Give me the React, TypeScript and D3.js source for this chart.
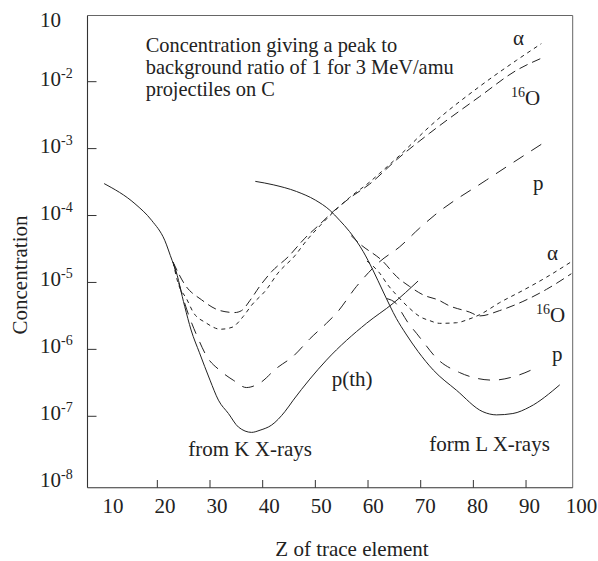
import React from "react";
import * as d3 from "d3";

// ---- data (Z of trace element, concentration) ----
const kSolidZ = [9.9, 15.75, 18.9, 21.4, 22.8, 23.3, 25.2, 26.4, 28, 30.0, 31.6, 33.5, 35.4, 37.9, 39.5, 41.7, 44.2, 45.8, 52.1, 59.7, 64.8, 69.5];
const kSolidC = [3.0e-4, 1.5e-4, 8.5e-5, 4.27e-5, 2.14e-5, 1.7e-5, 4.37e-6, 1.95e-6, 8.9e-7, 3.47e-7, 1.74e-7, 1.1e-7, 6.9e-8, 5.75e-8, 6.2e-8, 7.4e-8, 1.17e-7, 1.74e-7, 6.9e-7, 2.45e-6, 4.9e-6, 1.05e-5];

const lSolidZ = [38.6, 42, 46.4, 50, 52.75, 54.6, 56.5, 59.1, 60.9, 62.9, 65.4, 67.2, 69.5, 72.4, 76.8, 81.8, 84.4, 87.5, 90.7, 96.4];
const lSolidC = [3.24e-4, 2.88e-4, 2.29e-4, 1.7e-4, 1.2e-4, 8.5e-5, 5.75e-5, 2.88e-5, 1.55e-5, 7.2e-6, 2.88e-6, 1.7e-6, 9.3e-7, 4.9e-7, 2.45e-7, 1.17e-7, 1.05e-7, 1.1e-7, 1.38e-7, 2.95e-7];

const alphaKZ = [23, 23.9, 25.6, 26.8, 29.2, 32.0, 34.2, 36.3, 37.9, 40.7, 42.9, 46.1, 48.3, 51, 53.4, 56.5, 60.3, 62.2, 66, 71.7, 81.2, 88.2, 92.9];
const alphaKC = [2.0e-5, 1.0e-5, 5.6e-6, 3.6e-6, 2.5e-6, 2.0e-6, 2.14e-6, 3.1e-6, 4.57e-6, 7.8e-6, 1.38e-5, 2.5e-5, 4.2e-5, 7.2e-5, 1.12e-4, 1.86e-4, 3.16e-4, 4.27e-4, 7.9e-4, 2.14e-3, 8.5e-3, 2.09e-2, 3.7e-2];

const oxyKZ = [23, 25.3, 28.4, 31.9, 34.7, 36.0, 37.6, 39.5, 41.7, 44.8, 48.0, 51, 53.4, 56.5, 60.3, 65.4, 71.7, 81.2, 88.2, 93.2];
const oxyKC = [2.0e-5, 9.1e-6, 5.5e-6, 3.8e-6, 3.55e-6, 3.8e-6, 5.4e-6, 8.9e-6, 1.45e-5, 2.4e-5, 4.57e-5, 7.6e-5, 1.15e-4, 1.82e-4, 2.95e-4, 6.8e-4, 1.7e-3, 6.0e-3, 1.48e-2, 2.29e-2];

const protonKZ = [23, 25.6, 27.7, 29.4, 31.8, 34.4, 36.9, 39.5, 42.6, 45.8, 49.0, 52.1, 54.0, 57.8, 62.2, 66.0, 69.8, 72.7, 82.5, 93.2];
const protonKC = [2.0e-5, 3.9e-6, 1.48e-6, 7.8e-7, 4.9e-7, 3.47e-7, 2.69e-7, 3.16e-7, 5.2e-7, 7.9e-7, 1.45e-6, 2.45e-6, 3.47e-6, 8.7e-6, 2.04e-5, 3.4e-5, 6.5e-5, 1.02e-4, 3.4e-4, 1.2e-3];

const alphaLZ = [59.8, 62.2, 63.8, 65.4, 67.9, 69.8, 71.7, 73.6, 76.8, 79, 81.2, 85, 89.4, 93.9, 98.6];
const alphaLC = [2.09e-5, 1.38e-5, 9.1e-6, 6.5e-6, 4.1e-6, 3.1e-6, 2.69e-6, 2.45e-6, 2.5e-6, 2.8e-6, 3.3e-6, 5.0e-6, 7.6e-6, 1.2e-5, 2.04e-5];

const oxyLZ = [56.8, 58.4, 62.9, 65.4, 67.9, 70.5, 73.5, 75.2, 79.3, 81.2, 85, 89.4, 93.9, 98.6];
const oxyLC = [5.0e-5, 3.8e-5, 2.04e-5, 1.23e-5, 8.7e-6, 6.5e-6, 5.4e-6, 4.57e-6, 3.6e-6, 3.16e-6, 3.8e-6, 5.2e-6, 7.9e-6, 1.35e-5];

const protonLZ = [63.5, 65.4, 66.4, 67.6, 69.2, 70.5, 73, 77.4, 80, 83.7, 88.5, 92.3];
const protonLC = [5.75e-6, 4.8e-6, 3.55e-6, 2.5e-6, 1.74e-6, 1.29e-6, 7.4e-7, 4.5e-7, 3.8e-7, 3.47e-7, 4.1e-7, 5.5e-7];

const xTickValues = [20, 30, 40, 50, 60, 70, 80, 90];
const xTickLabels = ["10", "20", "30", "40", "50", "60", "70", "80", "90", "100"];
const yTickValues = [1e-2, 1e-3, 1e-4, 1e-5, 1e-6, 1e-7];
const yLabelExps = ["", "-2", "-3", "-4", "-5", "-6", "-7", "-8"];
const yLabelValues = [1e-1, 1e-2, 1e-3, 1e-4, 1e-5, 1e-6, 1e-7, 1e-8];

const titleLines = [
  "Concentration giving a peak to",
  "background ratio of 1 for 3 MeV/amu",
  "projectiles on C",
];

// ---- layout ----
const W = 598;
const H = 561;
const left = 87.5;
const right = 572.7;
const top = 15.5;
const bottom = 487.7;
const FONT = "'Liberation Serif', 'Times New Roman', serif";
const INK = "#222";

export default function App() {
  const x = d3.scaleLinear().domain([6.74, 98.86]).range([left, right]);
  const y = d3.scaleLog().domain([Math.pow(10, -8.067), Math.pow(10, -1.011)]).range([bottom, top]);
  const xLab = d3.scaleLinear().domain([10, 100]).range([113, 581.5]);

  const line = d3
    .line<[number, number]>()
    .x((d) => x(d[0]))
    .y((d) => y(d[1]))
    .curve(d3.curveMonotoneX);

  const mk = (zs: number[], cs: number[]) => line(zs.map((z, i) => [z, cs[i]] as [number, number])) || "";

  const series = [
    { d: mk(kSolidZ, kSolidC), dash: undefined as string | undefined },
    { d: mk(lSolidZ, lSolidC), dash: undefined },
    { d: mk(alphaKZ, alphaKC), dash: "4,4" },
    { d: mk(oxyKZ, oxyKC), dash: "9,5" },
    { d: mk(protonKZ, protonKC), dash: "12,9" },
    { d: mk(alphaLZ, alphaLC), dash: "4,4" },
    { d: mk(oxyLZ, oxyLC), dash: "9,5" },
    { d: mk(protonLZ, protonLC), dash: "12,9" },
  ];

  return (
    <svg
      width={W}
      height={H}
      style={{ position: "absolute", left: 0, top: 0, background: "#fff" }}
      fontFamily={FONT}
    >
      <rect x={0} y={0} width={W} height={H} fill="#fff" />
      {/* frame */}
      <line x1={left} x2={right} y1={top} y2={top} stroke="#666" strokeWidth={1} />
      <line x1={right} x2={right} y1={top} y2={bottom} stroke="#666" strokeWidth={1} />
      <line x1={left} x2={left} y1={top} y2={bottom} stroke="#333" strokeWidth={1.1} />
      <line x1={left} x2={right} y1={bottom} y2={bottom} stroke="#333" strokeWidth={1.1} />

      {/* ticks */}
      {yTickValues.map((v) => (
        <line key={"yt" + v} x1={left} x2={left + 9} y1={y(v)} y2={y(v)} stroke="#333" strokeWidth={1} />
      ))}
      {xTickValues.map((v) => (
        <line key={"xt" + v} x1={x(v)} x2={x(v)} y1={bottom} y2={bottom - 7.7} stroke="#333" strokeWidth={1} />
      ))}

      {/* y tick labels */}
      {yLabelValues.map((v, i) => (
        <text key={"yl" + i} x={40} y={i === 0 ? 27 : y(v) + 4} fontSize={21} fill={INK}>
          10
          {yLabelExps[i] ? (
            <tspan fontSize={14} dy={-8}>
              {yLabelExps[i]}
            </tspan>
          ) : null}
        </text>
      ))}

      {/* x tick labels */}
      {xTickLabels.map((t) => (
        <text key={"xl" + t} x={xLab(+t)} y={513} fontSize={21} textAnchor="middle" fill={INK}>
          {t}
        </text>
      ))}

      {/* axis titles */}
      <text x={352} y={556} fontSize={21} textAnchor="middle" fill={INK}>
        Z of trace element
      </text>
      <text transform="translate(27,275) rotate(-90)" fontSize={21} textAnchor="middle" fill={INK}>
        Concentration
      </text>

      {/* curves */}
      <g fill="none" stroke={INK} strokeWidth={1}>
        {series.map((s, i) => (
          <path key={"s" + i} d={s.d} strokeDasharray={s.dash} />
        ))}
      </g>

      {/* title */}
      {titleLines.map((t, i) => (
        <text key={"t" + i} x={145.7} y={52 + i * 22} fontSize={20.4} fill={INK}>
          {t}
        </text>
      ))}

      {/* curve labels */}
      <g fontSize={21} fill={INK}>
        <text x={513} y={45}>α</text>
        <text x={511} y={105}>
          <tspan fontSize={14} dy={-8}>16</tspan>
          <tspan dy={8}>O</tspan>
        </text>
        <text x={533} y={190}>p</text>
        <text x={547} y={260}>α</text>
        <text x={536} y={322}>
          <tspan fontSize={14} dy={-8}>16</tspan>
          <tspan dy={8}>O</tspan>
        </text>
        <text x={552} y={361}>p</text>
        <text x={331.7} y={386}>p(th)</text>
        <text x={188.3} y={456}>from K X-rays</text>
        <text x={429.3} y={451}>form L X-rays</text>
      </g>
    </svg>
  );
}
